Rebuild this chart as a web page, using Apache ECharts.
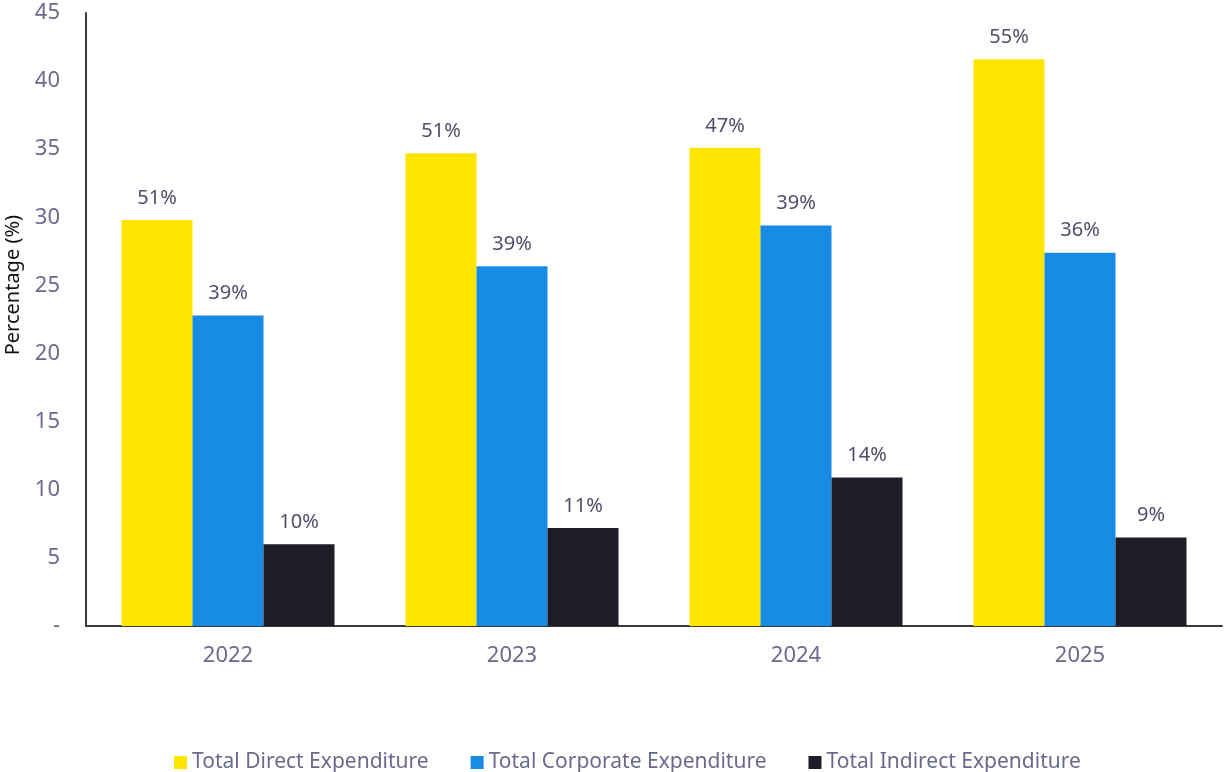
<!DOCTYPE html>
<html>
<head>
<meta charset="utf-8">
<script src="https://cdn.jsdelivr.net/npm/echarts@6/dist/echarts.min.js"></script>
<style>
  html, body { margin: 0; padding: 0; background: #fff; }
  #chart { width: 1225px; height: 772px; }
</style>
</head>
<body>
<div id="chart"></div>
<script>
// Expenditure by year, three spend categories
const years = ['2022', '2023', '2024', '2025'];
const seriesNames = ['Total Direct Expenditure', 'Total Corporate Expenditure', 'Total Indirect Expenditure'];
const directSpend = [29.8, 34.7, 35.1, 41.6];
const corporateSpend = [22.8, 26.4, 29.4, 27.4];
const indirectSpend = [6.0, 7.2, 10.9, 6.5];
const yTickLabels = ['-', '5', '10', '15', '20', '25', '30', '35', '40', '45'];

const colors = ['#FFE600', '#188CE5', '#1D1D27'];
const font = '"Noto Sans", "Open Sans", sans-serif';
const textColor = '#6A6A8C';
const labelColor = '#4E4E6A';

const allSeries = [directSpend, corporateSpend, indirectSpend];
// each bar's label shows its share of that year's total
const yearTotals = years.map((_, i) => allSeries.reduce((s, arr) => s + arr[i], 0));

const chart = echarts.init(document.getElementById('chart'));
chart.setOption({
  animation: false,
  color: colors,
  textStyle: { fontFamily: font },
  grid: { left: 86, right: 3, top: 13, bottom: 146, containLabel: false },
  legend: {
    top: 747,
    left: 169,
    itemWidth: 13,
    itemHeight: 13,
    itemGap: 42,
    icon: 'rect',
    textStyle: { color: textColor, fontSize: 21, fontFamily: font }
  },
  xAxis: {
    type: 'category',
    data: years,
    axisLine: { show: true, lineStyle: { color: '#3a3a3a', width: 2 } },
    axisTick: { show: false },
    axisLabel: { color: textColor, fontSize: 22, margin: 19, fontFamily: font }
  },
  yAxis: {
    type: 'value',
    min: 0,
    max: 45,
    interval: 5,
    splitLine: { show: false },
    axisLine: { show: true, lineStyle: { color: '#3a3a3a', width: 2 } },
    axisTick: { show: false },
    axisLabel: {
      color: textColor,
      fontSize: 22,
      margin: 26,
      fontFamily: font,
      formatter: v => yTickLabels[Math.round(v / 5)]
    }
  },
  graphic: [{
    type: 'text',
    left: 3,
    top: 215,
    rotation: Math.PI / 2,
    style: { text: 'Percentage (%)', fill: '#111', font: '20px ' + font }
  }],
  series: seriesNames.map((name, k) => ({
    name,
    type: 'bar',
    data: allSeries[k],
    barGap: '0%',
    barCategoryGap: '25%',
    label: {
      show: true,
      position: 'top',
      distance: 12,
      color: labelColor,
      fontSize: 20,
      fontFamily: font,
      formatter: p => Math.round(p.value / yearTotals[p.dataIndex] * 100) + '%'
    }
  }))
});
</script>
</body>
</html>
